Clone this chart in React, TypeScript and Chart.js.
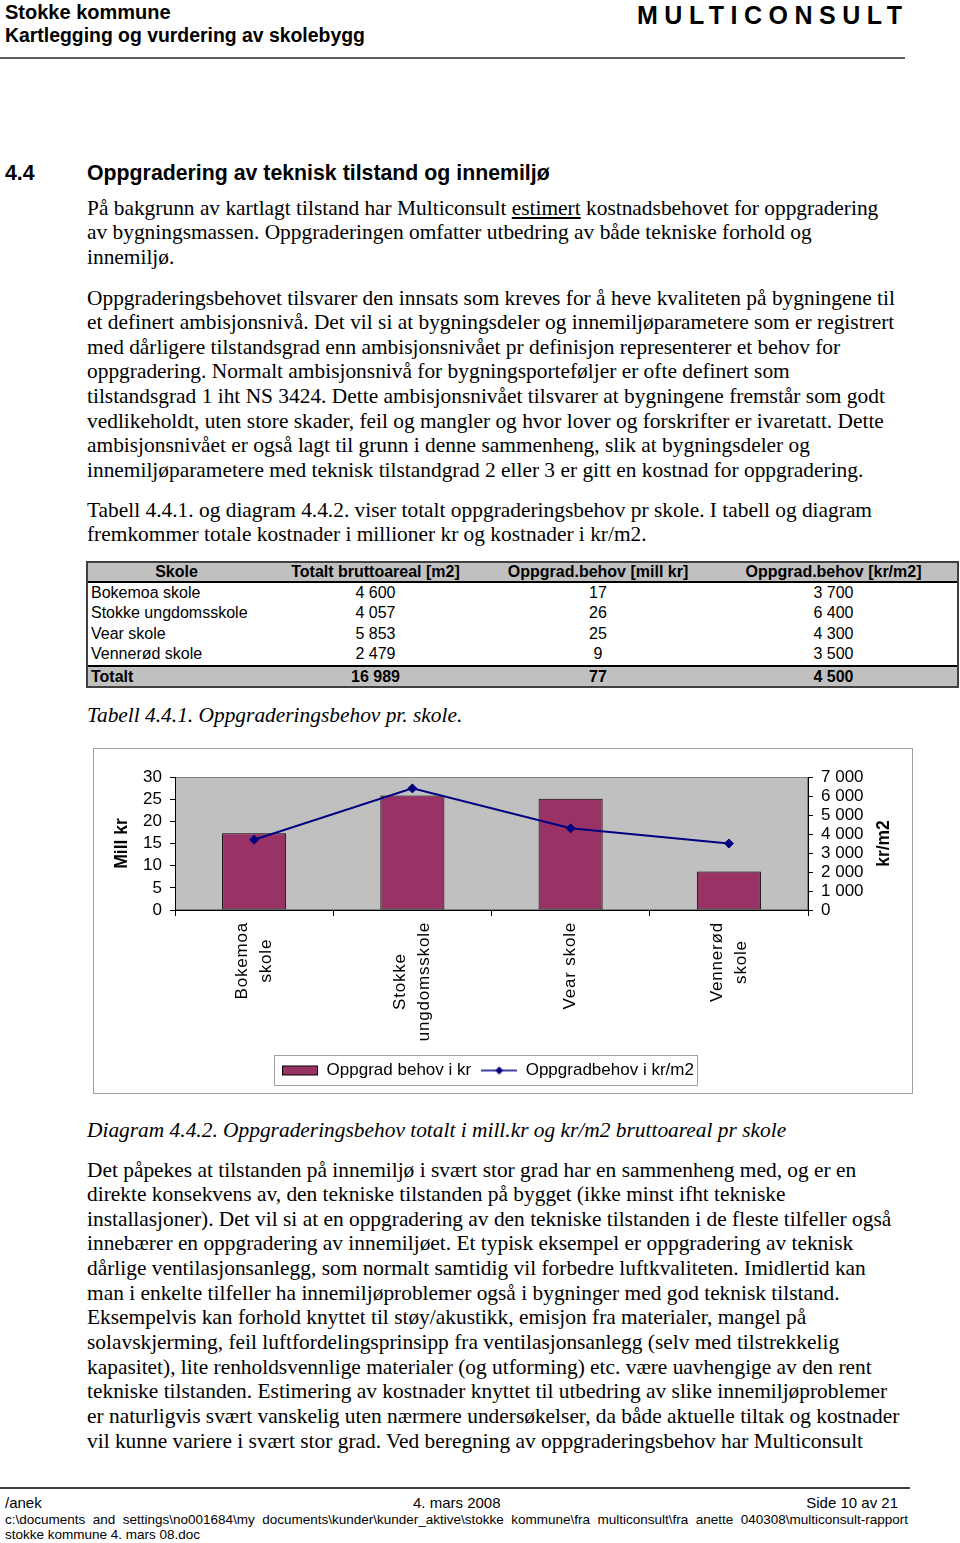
import React, { useEffect, useRef } from "react";
import { Chart, registerables } from "chart.js";

Chart.register(...registerables);

// ---------- DATA ----------
const schools = ["Bokemoa skole", "Stokke ungdomsskole", "Vear skole", "Vennerød skole"];
const categoryLines = [["Bokemoa", "skole"], ["Stokke", "ungdomsskole"], ["Vear skole"], ["Vennerød", "skole"]];
const costMillKr = [17.3, 25.8, 25.1, 8.7];
const costKrPerM2 = [3700, 6400, 4300, 3500];
const barLabel = "Oppgrad behov i kr";
const lineLabel = "Oppgradbehov i kr/m2";
const leftAxisTitle = "Mill kr";
const rightAxisTitle = "kr/m2";

const tableHeaders = ["Skole", "Totalt bruttoareal [m2]", "Oppgrad.behov [mill kr]", "Oppgrad.behov [kr/m2]"];
const tableArea = ["4 600", "4 057", "5 853", "2 479"];
const tableMill = ["17", "26", "25", "9"];
const tableKrM2 = ["3 700", "6 400", "4 300", "3 500"];
const tableTotals = ["Totalt", "16 989", "77", "4 500"];

// ---------- TEXT ----------
const para2 = [
  "Oppgraderingsbehovet tilsvarer den innsats som kreves for å heve kvaliteten på bygningene til",
  "et definert ambisjonsnivå. Det vil si at bygningsdeler og innemiljøparametere som er registrert",
  "med dårligere tilstandsgrad enn ambisjonsnivået pr definisjon representerer et behov for",
  "oppgradering. Normalt ambisjonsnivå for bygningsporteføljer er ofte definert som",
  "tilstandsgrad 1 iht NS 3424. Dette ambisjonsnivået tilsvarer at bygningene fremstår som godt",
  "vedlikeholdt, uten store skader, feil og mangler og hvor lover og forskrifter er ivaretatt. Dette",
  "ambisjonsnivået er også lagt til grunn i denne sammenheng, slik at bygningsdeler og",
  "innemiljøparametere med teknisk tilstandgrad 2 eller 3 er gitt en kostnad for oppgradering.",
];
const para3 = [
  "Tabell 4.4.1. og diagram 4.4.2. viser totalt oppgraderingsbehov pr skole. I tabell og diagram",
  "fremkommer totale kostnader i millioner kr og kostnader i kr/m2.",
];
const para4 = [
  "Det påpekes at tilstanden på innemiljø i svært stor grad har en sammenheng med, og er en",
  "direkte konsekvens av, den tekniske tilstanden på bygget (ikke minst ifht tekniske",
  "installasjoner). Det vil si at en oppgradering av den tekniske tilstanden i de fleste tilfeller også",
  "innebærer en oppgradering av innemiljøet. Et typisk eksempel er oppgradering av teknisk",
  "dårlige ventilasjonsanlegg, som normalt samtidig vil forbedre luftkvaliteten. Imidlertid kan",
  "man i enkelte tilfeller ha innemiljøproblemer også i bygninger med god teknisk tilstand.",
  "Eksempelvis kan forhold knyttet til støy/akustikk, emisjon fra materialer, mangel på",
  "solavskjerming, feil luftfordelingsprinsipp fra ventilasjonsanlegg (selv med tilstrekkelig",
  "kapasitet), lite renholdsvennlige materialer (og utforming) etc. være uavhengige av den rent",
  "tekniske tilstanden. Estimering av kostnader knyttet til utbedring av slike innemiljøproblemer",
  "er naturligvis svært vanskelig uten nærmere undersøkelser, da både aktuelle tiltak og kostnader",
  "vil kunne variere i svært stor grad. Ved beregning av oppgraderingsbehov har Multiconsult",
];

const SANS = "'Liberation Sans', Arial, sans-serif";
const SERIF = "'Liberation Serif', 'Times New Roman', serif";
const LH = 24.65;

function fmtThousands(v: number): string {
  if (v < 1000) return String(v);
  return `${Math.floor(v / 1000)} ${String(v % 1000).padStart(3, "0")}`;
}

function makeSwatch(kind: "bar" | "line"): HTMLCanvasElement {
  const c = document.createElement("canvas");
  c.width = 36;
  c.height = 12;
  const g = c.getContext("2d")!;
  if (kind === "bar") {
    g.fillStyle = "#993366";
    g.fillRect(0.5, 1.5, 35, 9);
    g.strokeStyle = "#000";
    g.lineWidth = 1;
    g.strokeRect(0.5, 1.5, 35, 9);
  } else {
    g.strokeStyle = "#000080";
    g.lineWidth = 1.5;
    g.beginPath();
    g.moveTo(0, 6);
    g.lineTo(36, 6);
    g.stroke();
    g.fillStyle = "#000080";
    g.beginPath();
    g.moveTo(18, 2);
    g.lineTo(22, 6);
    g.lineTo(18, 10);
    g.lineTo(14, 6);
    g.closePath();
    g.fill();
  }
  return c;
}

const decorPlugin = {
  id: "decor",
  beforeDraw(chart: any) {
    const { ctx, chartArea: a } = chart;
    ctx.save();
    ctx.fillStyle = "#c0c0c0";
    ctx.fillRect(a.left, a.top, a.right - a.left, a.bottom - a.top);
    ctx.strokeStyle = "#808080";
    ctx.lineWidth = 1;
    ctx.strokeRect(a.left + 0.5, a.top + 0.5, a.right - a.left - 1, a.bottom - a.top - 1);
    ctx.restore();
  },
  afterDraw(chart: any) {
    const { ctx, chartArea: a } = chart;
    const xs = chart.scales.x;
    ctx.save();
    // category labels, rotated, centred lines
    ctx.font = `17px ${SANS}`;
    ctx.fillStyle = "#000";
    (ctx as any).letterSpacing = "0.8px";
    categoryLines.forEach((lines, i) => {
      const cx = xs.getPixelForValue(i);
      const maxW = Math.max(...lines.map((l) => ctx.measureText(l).width));
      const top = xs.top + 12;
      ctx.save();
      ctx.translate(cx, top + maxW / 2);
      ctx.rotate(-Math.PI / 2);
      ctx.textAlign = "center";
      ctx.textBaseline = "middle";
      lines.forEach((l, j) => ctx.fillText(l, 0, (j - (lines.length - 1) / 2) * 24));
      ctx.restore();
    });
    (ctx as any).letterSpacing = "0px";
    // axis titles
    ctx.font = `bold 17.5px ${SANS}`;
    ctx.textAlign = "center";
    ctx.textBaseline = "middle";
    const cy = (a.top + a.bottom) / 2;
    [[28, leftAxisTitle], [790, rightAxisTitle]].forEach(([x, t]) => {
      ctx.save();
      ctx.translate(x as number, cy);
      ctx.rotate(-Math.PI / 2);
      ctx.fillText(t as string, 0, 0);
      ctx.restore();
    });
    // legend frame
    const hb = chart.legend && chart.legend.legendHitBoxes;
    if (hb && hb.length) {
      const l = hb[0].left - 8;
      const last = hb[hb.length - 1];
      const r = last.left + last.width + 3;
      const t = hb[0].top - 7;
      const b = hb[0].top + hb[0].height + 6;
      ctx.strokeStyle = "#a0a0a0";
      ctx.lineWidth = 1;
      ctx.strokeRect(Math.round(l) + 0.5, Math.round(t) + 0.5, Math.round(r - l), Math.round(b - t));
    }
    ctx.restore();
  },
};

function ChartBox() {
  const ref = useRef<HTMLCanvasElement>(null);
  useEffect(() => {
    const barSw = makeSwatch("bar");
    const lineSw = makeSwatch("line");
    const chart = new Chart(ref.current!, {
      type: "bar",
      data: {
        labels: schools,
        datasets: [
          {
            type: "line",
            label: lineLabel,
            data: costKrPerM2,
            yAxisID: "y1",
            borderColor: "#000080",
            backgroundColor: "#000080",
            borderWidth: 2,
            pointStyle: "rectRot",
            pointRadius: 4.5,
            pointBorderWidth: 1,
            pointBackgroundColor: "#000080",
            pointBorderColor: "#000080",
            tension: 0,
            order: 0,
          } as any,
          {
            type: "bar",
            label: barLabel,
            data: costMillKr,
            yAxisID: "y",
            backgroundColor: "#993366",
            borderColor: "#000",
            borderWidth: 1,
            borderSkipped: false,
            barPercentage: 0.405,
            categoryPercentage: 1,
            order: 1,
          } as any,
        ],
      },
      options: {
        animation: false,
        responsive: false,
        maintainAspectRatio: false,
        layout: { padding: { top: 28, bottom: 4, left: 0, right: 30 } },
        plugins: {
          tooltip: { enabled: false },
          legend: {
            position: "bottom",
            labels: {
              usePointStyle: true,
              pointStyleWidth: 36,
              boxHeight: 12,
              padding: 10,
              color: "#000",
              font: { family: SANS, size: 17 },
              generateLabels: () => [
                { text: barLabel, pointStyle: barSw, fillStyle: "#993366", strokeStyle: "#000", lineWidth: 0, hidden: false, datasetIndex: 1, fontColor: "#000" } as any,
                { text: lineLabel, pointStyle: lineSw, fillStyle: "#000080", strokeStyle: "#000080", lineWidth: 0, hidden: false, datasetIndex: 0, fontColor: "#000" } as any,
              ],
            },
          },
        },
        scales: {
          x: {
            grid: { offset: true, drawOnChartArea: false, drawTicks: true, tickLength: 6, color: "#000" },
            border: { color: "#000", width: 1 },
            ticks: { display: false },
            afterFit: (s: any) => {
              s.height = 142;
            },
          },
          y: {
            position: "left",
            min: 0,
            max: 30,
            ticks: { stepSize: 5, autoSkip: false, padding: 8, color: "#000", font: { family: SANS, size: 17 } },
            grid: { drawOnChartArea: false, tickLength: 5, color: "#000" },
            border: { color: "#000", width: 1 },
            afterFit: (s: any) => {
              s.width = 81;
            },
          },
          y1: {
            position: "right",
            min: 0,
            max: 7000,
            ticks: {
              stepSize: 1000,
              autoSkip: false,
              padding: 8,
              color: "#000",
              font: { family: SANS, size: 17 },
              callback: (v: any) => fmtThousands(Number(v)),
            },
            grid: { drawOnChartArea: false, tickLength: 5, color: "#000" },
            border: { color: "#000", width: 1 },
            afterFit: (s: any) => {
              s.width = 74;
            },
          },
        },
      } as any,
      plugins: [decorPlugin],
    });
    return () => chart.destroy();
  }, []);
  return (
    <div
      style={{
        position: "absolute",
        left: 93,
        top: 748,
        width: 820,
        height: 346,
        border: "1px solid #a0a0a0",
        boxSizing: "border-box",
        background: "#fff",
      }}
    >
      <canvas ref={ref} width={818} height={344} style={{ display: "block", width: 818, height: 344 }} />
    </div>
  );
}

function Lines({ top, lines, style }: { top: number; lines: React.ReactNode[]; style?: React.CSSProperties }) {
  return (
    <div
      style={{
        position: "absolute",
        left: 87,
        top,
        fontFamily: SERIF,
        fontSize: 21.4,
        lineHeight: `${LH}px`,
        color: "#000",
        whiteSpace: "nowrap",
        ...style,
      }}
    >
      {lines.map((l, i) => (
        <div key={i}>{l}</div>
      ))}
    </div>
  );
}

function Table() {
  const cols = [177, 221, 224, 247];
  const cell = (content: string, i: number, align: "left" | "center", extra?: React.CSSProperties) => (
    <div
      key={i}
      style={{
        width: cols[i],
        textAlign: align,
        paddingLeft: align === "left" ? 3 : 0,
        boxSizing: "border-box",
        whiteSpace: "nowrap",
        ...extra,
      }}
    >
      {content}
    </div>
  );
  const rowStyle = (h: number): React.CSSProperties => ({ display: "flex", height: h, lineHeight: `${h}px` });
  return (
    <div
      style={{
        position: "absolute",
        left: 86,
        top: 561,
        width: 873,
        height: 126.6,
        border: "2px solid #404040",
        boxSizing: "border-box",
        fontFamily: SANS,
        fontSize: 16,
        color: "#000",
      }}
    >
      <div style={{ ...rowStyle(18), background: "#c0c0c0", fontWeight: "bold", borderBottom: "2px solid #000" }}>
        {tableHeaders.map((h, i) => cell(h, i, "center"))}
      </div>
      {schools.map((s, r) => (
        <div key={r} style={rowStyle(20.4)}>
          {cell(s, 0, "left")}
          {cell(tableArea[r], 1, "center")}
          {cell(tableMill[r], 2, "center")}
          {cell(tableKrM2[r], 3, "center")}
        </div>
      ))}
      <div style={{ ...rowStyle(19), background: "#c0c0c0", fontWeight: "bold", borderTop: "2px solid #000" }}>
        {tableTotals.map((t, i) => cell(t, i, i === 0 ? "left" : "center"))}
      </div>
    </div>
  );
}

export default function App() {
  return (
    <div style={{ position: "absolute", left: 0, top: 0, width: 960, height: 1543, background: "#fff", overflow: "hidden" }}>
      {/* header */}
      <div style={{ position: "absolute", left: 5, top: 0, fontFamily: SANS, fontWeight: "bold", fontSize: 20, lineHeight: "24px", whiteSpace: "nowrap" }}>
        Stokke kommune
      </div>
      <div style={{ position: "absolute", left: 5, top: 23, fontFamily: SANS, fontWeight: "bold", fontSize: 19.4, lineHeight: "24px", whiteSpace: "nowrap" }}>
        Kartlegging og vurdering av skolebygg
      </div>
      <div
        style={{
          position: "absolute",
          left: 637,
          top: 1,
          fontFamily: SANS,
          fontWeight: "bold",
          fontSize: 25,
          letterSpacing: "6.5px",
          lineHeight: "28px",
          whiteSpace: "nowrap",
        }}
      >
        MULTICONSULT
      </div>
      <div style={{ position: "absolute", left: 0, top: 57, width: 905, height: 2, background: "#606060" }} />

      {/* heading */}
      <div style={{ position: "absolute", left: 5, top: 160, fontFamily: SANS, fontWeight: "bold", fontSize: 21.3, lineHeight: "26px", whiteSpace: "nowrap" }}>
        4.4
      </div>
      <div style={{ position: "absolute", left: 87, top: 160, fontFamily: SANS, fontWeight: "bold", fontSize: 21.3, lineHeight: "26px", whiteSpace: "nowrap" }}>
        Oppgradering av teknisk tilstand og innemiljø
      </div>

      <Lines
        top={195.5}
        lines={[
          <>
            På bakgrunn av kartlagt tilstand har Multiconsult <u>estimert</u> kostnadsbehovet for oppgradering
          </>,
          "av bygningsmassen. Oppgraderingen omfatter utbedring av både tekniske forhold og",
          "innemiljø.",
        ]}
      />
      <Lines top={285.5} lines={para2} />
      <Lines top={497.5} lines={para3} />

      <Table />

      <Lines top={702.5} lines={["Tabell 4.4.1. Oppgraderingsbehov pr. skole."]} style={{ fontStyle: "italic" }} />

      <ChartBox />

      <Lines
        top={1117.5}
        lines={["Diagram 4.4.2. Oppgraderingsbehov totalt i mill.kr og kr/m2 bruttoareal pr skole"]}
        style={{ fontStyle: "italic" }}
      />
      <Lines top={1157.5} lines={para4} />

      {/* footer */}
      <div style={{ position: "absolute", left: 0, top: 1487, width: 910, height: 2, background: "#404040" }} />
      <div style={{ position: "absolute", left: 5, top: 1494, width: 893, fontFamily: SANS, fontSize: 15, lineHeight: "18px", display: "flex", justifyContent: "space-between", whiteSpace: "nowrap" }}>
        <span>/anek</span>
        <span style={{ position: "absolute", left: 408 }}>4. mars 2008</span>
        <span>Side 10 av 21</span>
      </div>
      <div
        style={{
          position: "absolute",
          left: 5,
          top: 1512,
          width: 903,
          fontFamily: SANS,
          fontSize: 13.5,
          lineHeight: "15.5px",
          textAlign: "justify",
          textAlignLast: "justify",
          whiteSpace: "nowrap",
        }}
      >
        c:\documents and settings\no001684\my documents\kunder\kunder_aktive\stokke kommune\fra multiconsult\fra anette 040308\multiconsult-rapport
      </div>
      <div style={{ position: "absolute", left: 5, top: 1527, fontFamily: SANS, fontSize: 13.5, lineHeight: "15.5px", whiteSpace: "nowrap" }}>
        stokke kommune 4. mars 08.doc
      </div>
    </div>
  );
}
